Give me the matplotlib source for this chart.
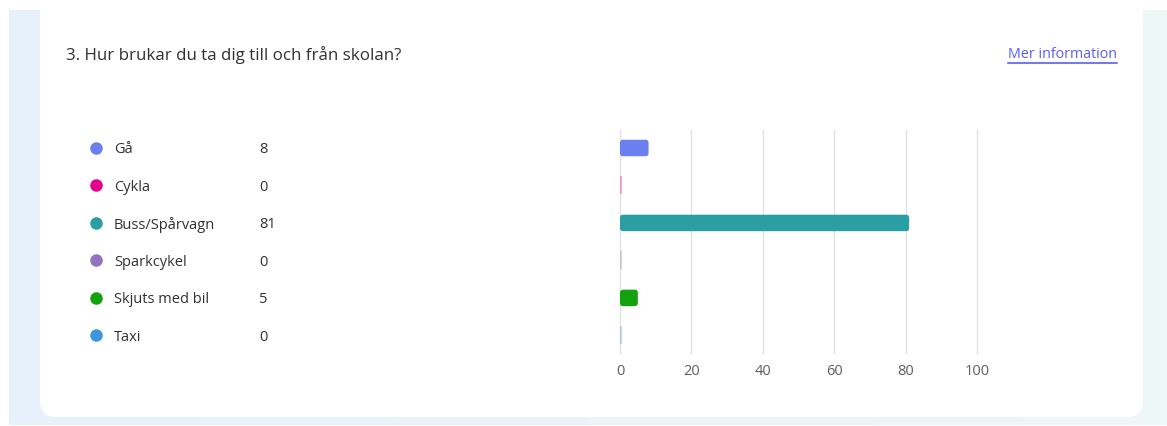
import numpy as np
import matplotlib
matplotlib.use("Agg")
import matplotlib.pyplot as plt
from matplotlib.patches import FancyBboxPatch
from matplotlib.colors import LinearSegmentedColormap
from matplotlib.transforms import blended_transform_factory

# chart data
title = "3. Hur brukar du ta dig till och från skolan?"
link_text = "Mer information"
options = ["Gå", "Cykla", "Buss/Spårvagn", "Sparkcykel", "Skjuts med bil", "Taxi"]
counts = [8, 0, 81, 0, 5, 0]
colors = ["#6B7FF0", "#E3008C", "#2A9FA3", "#9373C0", "#13A10E", "#3A96DD"]
xticks = [0, 20, 40, 60, 80, 100]

W, H = 1167, 426
plt.rcParams['font.family'] = ['Open Sans', 'DejaVu Sans']
fig = plt.figure(figsize=(W / 100, H / 100), dpi=100, facecolor="white")

# page background and white card (pixel coordinates)
bg = fig.add_axes([0, 0, 1, 1], zorder=-10)
bg.axis("off")
grad = np.linspace(0, 1, 256)[None, :]
cmap = LinearSegmentedColormap.from_list("bg", ["#e7f1fc", "#eaf4fa", "#eef8f6"])
bg.imshow(grad, cmap=cmap, extent=(9, W, H - 1, 10), aspect="auto", zorder=0)
card = FancyBboxPatch((40, -30), 1103, 447, boxstyle="round,pad=0,rounding_size=16",
                      facecolor="white", edgecolor="none", zorder=1)
bg.add_patch(card)
bg.set_xlim(0, W)
bg.set_ylim(H, 0)

# title and link
fig.text(66 / W, 1 - 55 / H, title, fontsize=12.2, color="#323130", va="center", ha="left")
link = fig.text(1117 / W, 1 - 54 / H, link_text, fontsize=10.3, color="#5B5FEF", va="center", ha="right")

# bar axis
ax = fig.add_axes([620 / W, 1 - 353 / H, (977 - 620) / W, (353 - 130) / H])
ax.set_facecolor("none")
ax.set_xlim(0, 100)
ax.set_ylim(5.47, -0.48)
ypos = np.arange(len(options))
bar_h = 0.44
# x units per pixel vs y units per pixel, so the corner rounding stays circular
aspect = ((5.47 + 0.48) / 223) / (100 / 357)
for y, c, col in zip(ypos, counts, colors):
    if c > 0:
        patch = FancyBboxPatch((0, y - bar_h / 2), c, bar_h,
                               boxstyle="round,pad=0,rounding_size=0.9", mutation_aspect=aspect,
                               facecolor=col, edgecolor="none", zorder=3)
    else:
        patch = FancyBboxPatch((0, y - 0.24), 0.45, 0.48, boxstyle="square,pad=0",
                               facecolor=col, alpha=0.3, edgecolor="none", zorder=3)
    ax.add_patch(patch)
ax.set_xticks(xticks)
ax.set_yticks([])
ax.grid(axis="x", color="#e1e1e1", linewidth=1, zorder=0)
for gl in ax.get_xgridlines():
    gl.set_clip_on(False)
ax.tick_params(axis="x", length=0, pad=8, labelsize=10.5, labelcolor="#605e5c")
for s in ax.spines.values():
    s.set_visible(False)

# legend rows aligned with the bars
tr = blended_transform_factory(fig.transFigure, ax.transData)
for y, name, c, col in zip(ypos, options, counts, colors):
    ax.plot([96 / W], [y], marker="o", markersize=8, color=col, transform=tr, clip_on=False)
    ax.text(114 / W, y, name, transform=tr, fontsize=10.5, color="#323130",
            va="center_baseline", ha="left")
    ax.text(259 / W, y, str(c), transform=tr, fontsize=10.5, color="#323130",
            va="center_baseline", ha="left")

# underline the link
fig.canvas.draw()
bb = link.get_window_extent().transformed(fig.transFigure.inverted())
fig.add_artist(plt.Line2D([bb.x0, bb.x1], [1 - 63 / H] * 2, color="#5B5FEF", linewidth=1.2,
                          transform=fig.transFigure))

fig.savefig("out.png", dpi=100, facecolor="white")
